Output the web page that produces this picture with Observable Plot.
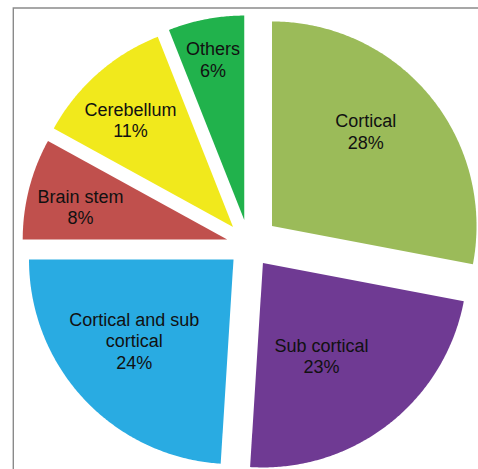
<!DOCTYPE html>
<html>
<head>
<meta charset="utf-8">
<script src="https://cdn.jsdelivr.net/npm/d3@7"></script>
<script src="https://cdn.jsdelivr.net/npm/@observablehq/plot@0.6"></script>
<style>
  html, body { margin: 0; padding: 0; background: #fff; overflow: hidden; }
  #chart svg { display: block; }
</style>
</head>
<body>
<div id="chart"></div>
<script>
// Lesion location shares (percent of patients)
const categories = ["Cortical", "Sub cortical", "Cortical and sub cortical", "Brain stem", "Cerebellum", "Others"];
const shares = [28, 23, 24, 8, 11, 6];
const labelLines = ["Cortical", "Sub cortical", "Cortical and sub\ncortical", "Brain stem", "Cerebellum", "Others"];

// Slice colours
const colors = ["#9BBB59", "#6F3A93", "#29ABE2", "#C0504D", "#F1E91C", "#21B24C"];

// Per-slice styling: how far each slice is pulled out (fraction of the radius),
// and where its label sits (fraction of the radius, turn in degrees from the mid-angle)
const explode = [0.146, 0.111, 0.104, 0.110, 0.118, 0.124];
const labelRadius = [0.652, 0.536, 0.626, 0.735, 0.726, 0.803];
const labelTurn = [-5.7, 5.5, 4.1, -1.8, -2.3, -0.2];

const W = 478, H = 469;

const rows = categories.map((name, i) => ({
  name,
  share: shares[i],
  label: `${labelLines[i]}\n${shares[i]}%`
}));

// Angles start at 12 o'clock and run clockwise, in data order
const arcs = d3.pie().sort(null).value(d => d.share)(rows);

// Each wedge becomes a closed outline in a unit-radius coordinate system (y up)
const outline = arcs.flatMap((a, i) => {
  const name = a.data.name;
  const mid = (a.startAngle + a.endAngle) / 2;
  const ox = explode[i] * Math.sin(mid);
  const oy = explode[i] * Math.cos(mid);
  const n = Math.max(2, Math.ceil((a.endAngle - a.startAngle) / (Math.PI / 360)));
  const pts = [{name, x: ox, y: oy}];
  for (let k = 0; k <= n; ++k) {
    const t = a.startAngle + (a.endAngle - a.startAngle) * k / n;
    pts.push({name, x: ox + Math.sin(t), y: oy + Math.cos(t)});
  }
  pts.push({name, x: ox, y: oy});
  return pts;
});

const labels = arcs.map((a, i) => {
  const mid = (a.startAngle + a.endAngle) / 2;
  const t = mid + labelTurn[i] * Math.PI / 180;
  return {
    label: a.data.label,
    x: explode[i] * Math.sin(mid) + labelRadius[i] * Math.sin(t),
    y: explode[i] * Math.cos(mid) + labelRadius[i] * Math.cos(t)
  };
});

const chart = Plot.plot({
  width: W,
  height: H,
  margin: 0,
  x: {domain: [-1.2152, 1.1222], axis: null},
  y: {domain: [-1.0978, 1.1956], axis: null},
  color: {domain: categories, range: colors},
  style: {
    background: "#fff",
    fontFamily: "'Liberation Sans', Arial, Helvetica, sans-serif"
  },
  marks: [
    Plot.line(outline, {x: "x", y: "y", z: "name", fill: "name", stroke: "none", curve: "linear"}),
    Plot.text(labels, {
      x: "x",
      y: "y",
      text: "label",
      fontSize: 18,
      lineHeight: 1.2,
      fill: "#111",
      textAnchor: "middle"
    })
  ]
});

// Chart-area border (top and left edges)
d3.select(chart).append("path")
  .attr("d", `M13.3,${H + 1}V8H${W + 1}`)
  .attr("fill", "none")
  .attr("stroke", "#8a8a8a")
  .attr("stroke-width", 1.4);

document.getElementById("chart").append(chart);
</script>
</body>
</html>
